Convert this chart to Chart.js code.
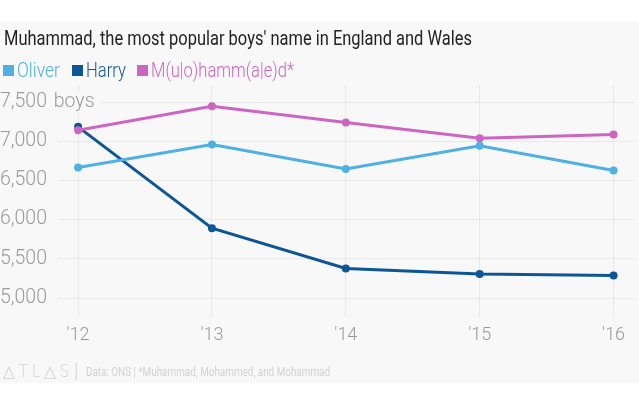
<!DOCTYPE html>
<html>
<head>
<meta charset="utf-8">
<script src="https://cdn.jsdelivr.net/npm/chart.js@4.4.1/dist/chart.umd.min.js"></script>
<style>
  html, body { margin: 0; padding: 0; background: #fff; }
  #wrap { position: relative; width: 639px; height: 399px; overflow: hidden; }
  #band { position: absolute; left: 0; top: 22px; width: 639px; height: 361px; background: #f8f8f8; }
  #title { position: absolute; left: 4px; top: 26px; font: 21px "Roboto", sans-serif; color: #222; white-space: nowrap; }
  .leg { position: absolute; top: 58px; font: 300 20px "Roboto", sans-serif; white-space: nowrap; }
  .sw { position: absolute; top: 65px; width: 11px; height: 11px; }
  .foot { position: absolute; color: #d2d2d2; white-space: nowrap; }
  #logo { left: 3px; top: 361px; font: 300 17px "DejaVu Sans", sans-serif; letter-spacing: 4px; }
  #bar { left: 74px; top: 359px; font: 300 20px "Roboto", sans-serif; }
  #src { left: 86px; top: 365px; font: 12px "Roboto", sans-serif; }
  #chart { position: absolute; left: 0; top: 0; }
</style>
</head>
<body>
<div id="wrap">
  <div id="band"></div>
  <canvas id="chart" width="639" height="399"></canvas>
  <div id="title">Muhammad, the most popular boys' name in England and Wales</div>
  <div id="legend"></div>
  <div class="foot" id="logo">△TL△S</div>
  <div class="foot" id="bar">|</div>
  <div class="foot" id="src">Data: ONS | *Muhammad, Mohammed, and Mohammad</div>
</div>
<script>
const years = [2012, 2013, 2014, 2015, 2016];
const names = ["Oliver", "Harry", "M(u|o)hamm(a|e)d*"];
const colors = ["#4fb0e3", "#0d5696", "#cc66c0"];
const oliver = [6665, 6958, 6647, 6941, 6626];
const harry = [7183, 5890, 5376, 5308, 5287];
const muhammad = [7140, 7446, 7238, 7038, 7085];
const yTicks = [5000, 5500, 6000, 6500, 7000, 7500];
const yUnit = " boys";

const seriesValues = [oliver, harry, muhammad];
const drawOrder = [0, 2, 1];

// legend positions
const legendX = [3, 72, 137];
const legendW = [43, 40, 143];

function fitWidth(el, target){
    const w = el.getBoundingClientRect().width;
    el.style.transformOrigin = "left top";
    el.style.transform = "scaleX(" + (target / w) + ")";
}

function loadLegend(){
    const legend = document.getElementById("legend");
    names.forEach((name, i)=>{
        const sw = document.createElement("div");
        sw.className = "sw";
        sw.style.left = legendX[i] + "px";
        sw.style.background = colors[i];
        legend.appendChild(sw);
        const txt = document.createElement("div");
        txt.className = "leg";
        txt.style.left = (legendX[i] + 14) + "px";
        txt.style.color = colors[i];
        txt.innerText = name;
        legend.appendChild(txt);
        fitWidth(txt, legendW[i]);
    });
}

loadLegend();
fitWidth(document.getElementById("title"), 468);
fitWidth(document.getElementById("logo"), 70);
fitWidth(document.getElementById("src"), 244);

const datasets = seriesValues.map((vals, i)=>({
    label: names[i],
    data: vals.map((v, j)=>({x: years[j], y: v})),
    borderColor: colors[i],
    backgroundColor: colors[i],
    borderWidth: 3,
    pointRadius: 4,
    pointHoverRadius: 4,
    pointBorderWidth: 0,
    tension: 0,
    order: drawOrder[i]
}));

const xFont = { family: "Roboto", weight: 300, size: 18 };
const yFont = { family: "Roboto", weight: 300, size: 19.5 };

// writes the unit after the top y label, which the axis would clip
const unitLabel = {
    id: "unitLabel",
    afterDraw(chart){
        const y = chart.scales.y;
        const top = yTicks[yTicks.length - 1];
        const c = chart.ctx;
        c.save();
        c.font = yFont.weight + " " + yFont.size + "px " + yFont.family;
        const lbl = top.toLocaleString("en-US");
        const x0 = 2 + c.measureText(lbl).width;
        const w = c.measureText(yUnit).width;
        const py = y.getPixelForValue(top);
        c.fillStyle = "#f8f8f8";
        c.fillRect(x0, py - 10, w + 6, 20);
        c.fillStyle = "#9a9a9a";
        c.textBaseline = "middle";
        c.fillText(yUnit, x0, py);
        c.restore();
    }
};

const ctx = document.getElementById("chart").getContext("2d");
new Chart(ctx, {
    type: "line",
    data: { datasets: datasets },
    options: {
        responsive: false,
        animation: false,
        layout: { padding: { top: 85, bottom: 40, left: 0, right: 0 } },
        plugins: { legend: { display: false }, tooltip: { enabled: false } },
        scales: {
            x: {
                type: "linear",
                min: 2011.85,
                max: 2016.16,
                afterFit: (s)=>{ s.height = 42; },
                grid: { color: "#e9e9e9", drawTicks: false },
                border: { display: false },
                ticks: {
                    includeBounds: false,
                    stepSize: 1,
                    padding: 8,
                    color: "#9a9a9a",
                    font: xFont,
                    callback: (v)=> years.includes(v) ? "'" + String(v).slice(2) : ""
                }
            },
            y: {
                min: 4758,
                max: 7717,
                afterFit: (s)=>{ s.width = 58; },
                afterBuildTicks: (s)=>{ s.ticks = yTicks.map((v)=>({value: v})); },
                grid: { color: "#e9e9e9", drawTicks: false },
                border: { display: false },
                ticks: {
                    crossAlign: "far",
                    padding: 0,
                    color: "#9a9a9a",
                    font: yFont,
                    callback: (v)=> v.toLocaleString("en-US")
                }
            }
        }
    },
    plugins: [unitLabel]
});
</script>
</body>
</html>
